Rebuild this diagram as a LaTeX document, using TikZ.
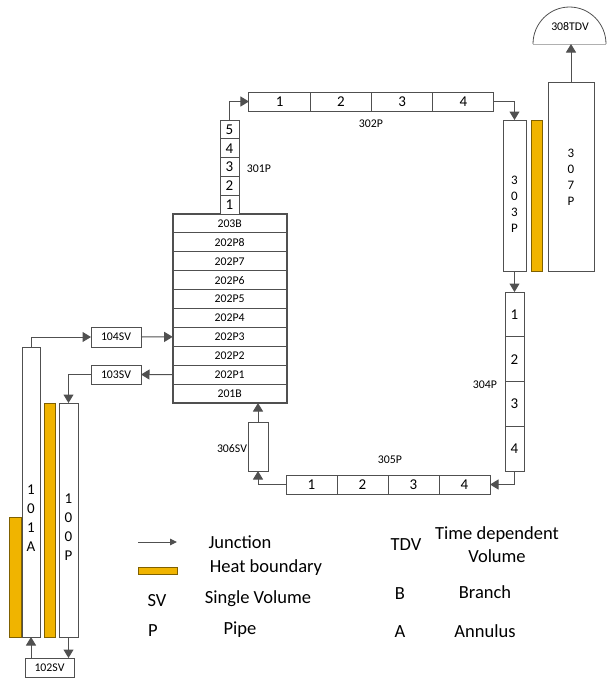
\documentclass[tikz,border=0pt]{standalone}
\usepackage{fontspec}
\setmainfont{Carlito}
\usetikzlibrary{arrows.meta}
\definecolor{linegray}{HTML}{505050}
\definecolor{heatfill}{HTML}{F0B400}
\definecolor{heatedge}{HTML}{7F6000}
\tikzset{
    box/.style={draw=linegray, line width=1pt, fill=white, inner sep=0pt, outer sep=0pt, align=center},
    smalltxt/.style={font=\fontsize{11.8}{13}\selectfont},
    digit/.style={font=\fontsize{15}{16}\selectfont},
    bigstack/.style={font=\fontsize{15}{19}\selectfont, inner sep=0pt, align=center},
    narrowstack/.style={font=\fontsize{13}{16}\selectfont, inner sep=0pt, align=center},
    heatbar/.style={draw=heatedge, line width=0.8pt, fill=heatfill, inner sep=0pt, outer sep=0pt},
    flow/.style={draw=linegray, line width=1pt, -{Triangle[length=8.5pt,width=10pt]}},
    legendtxt/.style={font=\fontsize{18.5}{23}\selectfont, text=black, inner sep=0pt, align=center},
}
\begin{document}
\begin{tikzpicture}[x=1pt, y=-1pt]
    \useasboundingbox (0,0) rectangle (606,678);

    % Left legs
    \node[heatbar, minimum width=11.5, minimum height=120] (heatA) at (15.3,577) {};
    \node[heatbar, minimum width=11.5, minimum height=234] (heatB) at (49.8,520) {};
    \node[box, minimum width=18, minimum height=290] (p101) at (31,492) {};
    \node[bigstack] (lab101) at (31,518.5) {1\\0\\1\\A};
    \node[box, minimum width=19, minimum height=234] (p100) at (68.5,520) {};
    \node[bigstack] (lab100) at (68.5,527.5) {1\\0\\0\\P};
    \node[box, smalltxt, minimum width=49, minimum height=19] (sv102) at (49.5,667.5) {102SV};
    \node[box, smalltxt, minimum width=50, minimum height=20] (sv104) at (116,337) {104SV};
    \node[box, smalltxt, minimum width=50, minimum height=19] (sv103) at (116,374.5) {103SV};

    % Central stack
    \foreach \n [count=\i from 0] in {203B,202P8,202P7,202P6,202P5,202P4,202P3,202P2,202P1,201B}
        \node[box, smalltxt, minimum width=114, minimum height=18.9] (row\i) at (229.7,{223.45+18.9*\i}) {\n};
    \draw[draw=linegray, line width=1.6pt] (row0.north west) rectangle (row9.south east);

    % Pipe 301P
    \foreach \n [count=\i from 0] in {5,4,3,2,1}
        \node[box, digit, minimum width=19, minimum height=18.8] (up\n) at (229.5,{129.4+18.8*\i}) {\n};
    \node[smalltxt, inner sep=0pt] (lab301) at (259,169) {301P};

    % Pipe 302P
    \foreach \n [count=\i from 0] in {1,2,3,4}
        \node[box, digit, minimum width=61.25, minimum height=19] (top\n) at ({279.6+61.25*\i},101.5) {\n};
    \node[smalltxt, inner sep=0pt] (lab302) at (371,124) {302P};

    % Right side
    \node[box, minimum width=23, minimum height=151] (p303) at (514.5,195.5) {};
    \node[narrowstack] (lab303) at (514.5,204) {3\\0\\3\\P};
    \node[heatbar, minimum width=11.5, minimum height=151] (heatC) at (537,195.5) {};
    \node[box, minimum width=46, minimum height=189] (p307) at (571,176.5) {};
    \node[narrowstack] (lab307) at (571,177) {3\\0\\7\\P};
    \draw[draw=linegray!45, line width=0.8pt] (533,44) -- (606,44);
    \draw[draw=linegray, line width=0.8pt] (533,44) arc (180:360:36.5 and 37);
    \node[smalltxt, inner sep=0pt] (tdv308) at (570,27) {308TDV};
    \coordinate (tdvbase) at (571,44);

    % Pipe 304P
    \foreach \n [count=\i from 0] in {1,2,3,4}
        \node[box, digit, minimum width=19, minimum height=44.75] (down\n) at (514.5,{314.4+44.75*\i}) {\n};
    \node[smalltxt, inner sep=0pt] (lab304) at (485,385) {304P};

    % Pipe 305P
    \foreach \n [count=\i from 0] in {1,2,3,4}
        \node[box, digit, minimum width=51, minimum height=19] (low\n) at ({311.5+51*\i},484.5) {\n};
    \node[smalltxt, inner sep=0pt] (lab305) at (390,460) {305P};

    % 306SV
    \node[box, minimum width=20, minimum height=49] (sv306) at (258,446.5) {};
    \node[smalltxt, inner sep=0pt] (lab306) at (232,449) {306SV};

    % Junctions
    \draw[flow] (p101.north) |- (sv104.west);
    \draw[flow] (sv104.east) -- (row6.west);
    \draw[flow] (row8.west) -- (sv103.east);
    \draw[flow] (sv103.west) -| (p100.north);
    \draw[flow] (p100.south) -- (p100.south |- sv102.north);
    \draw[flow] (p101.south |- sv102.north) -- (p101.south);
    \draw[flow] (up5.north) |- (top1.west);
    \draw[flow] (top4.east) -| (p303.north);
    \draw[flow] (p303.south) -- (down1.north);
    \draw[flow] (p307.north) -- (tdvbase);
    \draw[flow] (down4.south) |- (low4.east);
    \draw[flow] (low1.west) -| (sv306.south);
    \draw[flow] (sv306.north) -- (sv306.north |- row9.south);

    % Legend
    \coordinate (keyA) at (138,542);
    \coordinate (keyB) at (177,542);
    \draw[draw=linegray, line width=1pt, -{Triangle[length=7pt,width=6.5pt]}] (keyA) -- (keyB);
    \node[heatbar, minimum width=39, minimum height=6.5] (keyheat) at (157.5,571) {};
    \node[legendtxt] (txtjun) at (240,542) {Junction};
    \node[legendtxt] (txtheat) at (266,568) {Heat boundary};
    \node[legendtxt] (keysv) at (157,601) {SV};
    \node[legendtxt] (txtsv) at (258,599) {Single Volume};
    \node[legendtxt] (keyp) at (153,631) {P};
    \node[legendtxt] (txtp) at (240,630) {Pipe};
    \node[legendtxt] (keytdv) at (406,545) {TDV};
    \node[legendtxt] (txttdv) at (497,544.5) {Time dependent\\Volume};
    \node[legendtxt] (keyb) at (400,594) {B};
    \node[legendtxt] (txtb) at (485,592) {Branch};
    \node[legendtxt] (keya) at (400,632) {A};
    \node[legendtxt] (txta) at (485,631) {Annulus};
\end{tikzpicture}
\end{document}
